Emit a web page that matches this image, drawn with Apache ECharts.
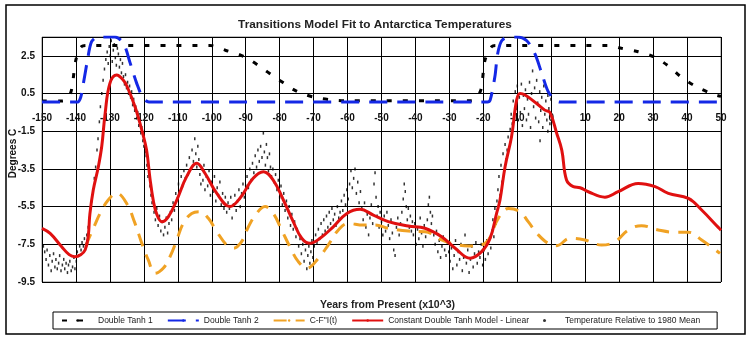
<!DOCTYPE html>
<html>
<head>
<meta charset="utf-8">
<script src="https://cdn.jsdelivr.net/npm/echarts@6/dist/echarts.min.js"></script>
<style>
  html, body { margin: 0; padding: 0; background: #ffffff; }
  #chart { width: 750px; height: 338px; }
</style>
</head>
<body>
<div id="chart"></div>
<script>
// Age in thousands of years from present (negative = past), temperature in degrees C.
const xTicks = { min: -150, max: 50, step: 10 };
const yTicks = { min: -9.5, max: 3.5, step: 2 };

const doubleTanh1 = [
  [-150, 0.1], [-144, 0.1], [-142.5, 0.2], [-141.3, 0.7], [-140, 2.3], [-138.3, 3.0], [-136.5, 3.05],
  [-100.5, 3.05], [-96, 2.8], [-92, 2.58], [-88.7, 2.28], [-85.1, 1.84], [-81.9, 1.43], [-78.9, 1.07],
  [-76, 0.72], [-72.8, 0.46], [-69.1, 0.28], [-64.3, 0.16], [-60, 0.12], [-24, 0.12], [-22.5, 0.16],
  [-20.7, 0.72], [-19.5, 2.28], [-17.5, 3.0], [-16, 3.05], [16.8, 3.05], [20.7, 2.9], [25.6, 2.72],
  [30.6, 2.42], [34.5, 1.96], [38.4, 1.36], [42.4, 0.9], [47.7, 0.46], [50, 0.35]
];

const doubleTanh2 = [
  [-150, 0.05], [-139.5, 0.05], [-138.6, 0.3], [-137.8, 1.04], [-136.6, 2.28], [-135.4, 3.25],
  [-133.5, 3.5], [-128.5, 3.5], [-126, 3.16], [-124, 2.1], [-122.1, 1.04], [-120.2, 0.25], [-118.5, 0.05],
  [-18.8, 0.05], [-18, 0.15], [-16.6, 1.4], [-15.8, 2.6], [-14.6, 3.3], [-12.6, 3.5], [-10.2, 3.5],
  [-7.2, 3.3], [-4.8, 2.6], [-2.8, 1.57], [-0.9, 0.6], [1.1, 0.15], [2.5, 0.05], [50, 0.05]
];

const cfIt = [
  [-137.0, -7.6], [-136.4, -7.27], [-134.5, -6.5], [-132.9, -5.86], [-130.5, -5.15], [-128.0, -4.79],
  [-125.1, -5.32], [-122.6, -6.39], [-120.6, -7.45], [-118.7, -8.33], [-116.7, -9.04], [-114.3, -8.77],
  [-112.3, -8.16], [-110.3, -7.27], [-108.4, -6.39], [-105.9, -5.86], [-103.5, -5.77], [-101.0, -6.12],
  [-98.5, -6.83], [-95.6, -7.54], [-93.6, -7.71], [-91.2, -7.36], [-89.2, -6.57], [-86.8, -5.86],
  [-84.3, -5.5], [-81.9, -5.86], [-79.4, -6.74], [-77.0, -7.63], [-74.5, -8.42], [-72.0, -8.77],
  [-68.6, -8.24], [-65.7, -7.54], [-62.7, -6.74], [-59.8, -6.39], [-55.4, -6.48], [-51.9, -6.48],
  [-48.0, -6.65], [-42.1, -6.8], [-37.2, -6.83], [-32.3, -7.27], [-29.3, -7.45], [-24.4, -7.59],
  [-19.5, -7.45], [-15.6, -6.12], [-12.6, -5.6], [-9.2, -5.77], [-6.8, -6.3], [-3.8, -7.0],
  [-0.9, -7.45], [1.6, -7.57], [5.5, -7.18], [9.9, -7.27], [14.8, -7.54], [18.8, -7.36], [22.7, -6.74],
  [26.6, -6.51], [31.5, -6.74], [36.4, -6.86], [40.4, -6.86], [44.3, -7.27], [49.7, -7.98]
];

const modelLinear = [
  [-150, -6.65], [-147.6, -6.92], [-144.2, -7.63], [-142, -8.05], [-140.3, -8.16], [-138.6, -8.05],
  [-137.3, -7.8], [-136.4, -7.1], [-135.9, -5.9], [-134.9, -4.62], [-133.4, -3.38], [-132.4, -2.3],
  [-131.4, -0.55], [-130, 1.04], [-128, 1.48], [-126.1, 1.22], [-125, 0.9], [-122.6, -0.2],
  [-120.6, -1.44], [-119.2, -2.5], [-118.2, -4.0], [-117.2, -5.2], [-116.2, -5.9], [-114.7, -6.3],
  [-112.8, -6.04], [-110.3, -5.15], [-107.4, -3.91], [-104.4, -3.2], [-102.0, -3.73], [-98.5, -4.8],
  [-94.6, -5.5], [-91.7, -5.06], [-87.8, -4.0], [-84.8, -3.65], [-81.9, -4.09], [-78.9, -5.15],
  [-76.0, -6.3], [-73.5, -7.18], [-71.1, -7.45], [-68.1, -7.18], [-64.2, -6.57], [-60.2, -5.86],
  [-56.3, -5.64], [-52.4, -5.95], [-48.0, -6.3], [-42.1, -6.53], [-37.2, -6.65], [-32.3, -7.1],
  [-28.3, -7.71], [-23.9, -8.24], [-20.5, -7.89], [-18.0, -7.18], [-16.1, -5.86], [-15.1, -5.15],
  [-13.6, -3.38], [-11.7, -1.79], [-10.2, 0.15], [-9.2, 0.5], [-7.7, 0.42], [-4.3, -0.03],
  [-1.9, -0.38], [-0.4, -0.5], [1.6, -1.61], [3.1, -2.5], [4.5, -4.09], [6.5, -4.44], [8.5, -4.5],
  [10.9, -4.71], [15.8, -5.0], [19.7, -4.71], [25.6, -4.27], [30.6, -4.44], [34.5, -4.8],
  [40.4, -5.06], [44.3, -5.68], [49.2, -6.6], [50, -6.75]
];

// Ice-core temperature relative to the 1980 mean.
const tempObs = [
  [-149.6,-7.6],[-149.2,-7.9],[-148.8,-8.3],[-148.5,-7.8],[-148.1,-8.6],[-147.7,-8.1],[-147.3,-8.9],[-147.0,-8.4],
  [-146.6,-8.0],[-146.2,-8.7],[-145.9,-8.3],[-145.5,-8.8],[-145.1,-8.5],[-144.8,-8.1],[-144.4,-8.9],[-144.0,-8.6],
  [-143.6,-8.3],[-143.3,-8.8],[-142.9,-8.5],[-142.5,-9.0],[-142.2,-8.6],[-141.8,-8.4],[-141.4,-8.9],[-141.0,-8.7],
  [-140.6,-8.2],[-140.3,-8.8],
  [-139.9,-8.4],[-139.6,-7.9],[-139.2,-8.1],[-138.9,-7.6],[-138.5,-7.8],[-138.2,-7.4],[-137.8,-7.6],[-137.5,-7.2],
  [-137.1,-7.5],[-136.8,-7.0],
  [-136.4,-6.6],[-136.0,-6.1],[-135.7,-5.6],[-135.3,-5.2],[-135.0,-4.6],[-134.6,-4.0],[-134.2,-3.4],[-133.8,-2.5],
  [-133.5,-1.9],[-133.1,-1.0],[-132.8,-0.2],[-132.4,0.5],[-132.0,1.2],[-131.6,1.8],[-131.2,2.3],
  [-130.8,2.7],[-130.5,2.1],[-130.2,3.0],[-129.9,2.5],[-129.6,3.3],[-129.3,2.2],[-129.0,2.8],[-128.7,3.1],
  [-128.4,2.4],[-128.1,2.0],[-127.8,2.9],[-127.5,2.6],[-127.2,1.9],[-126.9,2.3],[-126.6,1.6],[-126.3,2.1],
  [-126.0,1.4],[-125.7,1.0],[-125.4,1.5],[-125.1,0.8],[-124.8,1.1],[-124.5,0.5],[-124.2,0.9],[-123.9,0.3],
  [-123.6,0.6],[-123.3,-0.1],[-123.0,0.2],[-122.7,-0.4],[-122.4,-0.2],[-122.1,-0.8],[-121.8,-0.5],[-121.5,-1.2],
  [-121.2,-0.9],[-120.9,-1.6],[-120.6,-1.3],[-120.3,-2.0],
  [-120.0,-2.3],[-119.7,-2.8],[-119.4,-2.6],[-119.1,-3.3],[-118.8,-3.9],[-118.5,-3.6],[-118.2,-4.4],[-117.9,-4.9],
  [-117.6,-5.3],[-117.3,-5.0],
  [-117.0,-5.8],[-116.6,-6.2],[-116.2,-5.6],[-115.8,-6.5],[-115.4,-6.0],[-115.0,-6.8],[-114.6,-6.3],[-114.2,-7.0],
  [-113.8,-6.6],[-113.4,-6.1],[-113.0,-6.9],[-112.6,-6.4],[-112.2,-5.8],[-111.8,-6.2],
  [-111.4,-5.3],[-111.0,-5.7],[-110.6,-4.8],[-110.2,-5.1],[-109.8,-4.3],[-109.4,-4.7],[-109.0,-3.9],[-108.6,-4.4],
  [-108.2,-3.6],[-107.8,-4.0],[-107.4,-3.3],[-107.0,-3.8],[-106.6,-2.9],[-106.2,-3.5],[-105.8,-2.5],[-105.4,-3.1],
  [-105.0,-1.9],[-104.7,-2.7],[-104.4,-3.4],[-104.1,-2.3],
  [-103.8,-3.0],[-103.5,-3.8],[-103.2,-4.3],[-102.9,-3.5],[-102.6,-4.1],[-102.3,-3.3],[-102.0,-4.6],[-101.6,-3.9],
  [-101.2,-4.4],[-100.8,-3.6],[-100.4,-4.9],[-100.0,-4.2],[-99.6,-4.7],[-99.2,-3.9],[-98.8,-5.2],[-98.4,-4.5],
  [-98.0,-4.9],[-97.6,-4.2],[-97.2,-5.4],[-96.8,-4.8],[-96.4,-5.6],[-96.0,-5.0],[-95.6,-5.8],[-95.2,-5.3],
  [-94.8,-5.6],[-94.4,-5.0],[-94.0,-6.1],[-93.6,-5.4],[-93.2,-4.9],[-92.8,-5.7],[-92.4,-5.2],[-92.0,-4.6],
  [-91.6,-5.5],[-91.2,-4.8],[-90.8,-4.3],[-90.4,-5.0],
  [-90.0,-4.4],[-89.6,-3.9],[-89.2,-4.5],[-88.8,-3.5],[-88.4,-4.1],[-88.0,-3.2],[-87.6,-3.7],[-87.2,-2.8],
  [-86.8,-3.4],[-86.4,-2.5],[-86.0,-3.1],[-85.6,-2.3],[-85.2,-2.9],[-84.8,-1.6],[-84.5,-2.6],[-84.2,-3.3],
  [-83.9,-2.2],[-83.6,-2.9],[-83.3,-3.6],[-83.0,-2.7],[-82.7,-3.4],[-82.4,-3.9],
  [-82.0,-3.5],[-81.6,-4.2],[-81.2,-3.8],[-80.8,-4.6],[-80.4,-4.1],[-80.0,-5.0],[-79.6,-4.4],[-79.2,-5.4],
  [-78.8,-4.8],[-78.4,-5.7],[-78.0,-5.2],[-77.6,-6.1],[-77.2,-5.5],[-76.8,-6.5],[-76.4,-5.9],[-76.0,-6.7],
  [-75.6,-6.3],[-75.2,-7.1],[-74.8,-6.7],[-74.4,-7.6],[-74.0,-7.2],[-73.6,-8.0],[-73.2,-7.5],[-72.8,-8.4],
  [-72.4,-7.8],[-72.0,-8.8],[-71.7,-8.1],[-71.4,-7.6],[-71.1,-8.5],[-70.8,-7.9],[-70.5,-7.3],[-70.2,-8.2],
  [-69.8,-7.6],[-69.4,-7.0],[-69.0,-7.4],[-68.6,-6.7],[-68.2,-7.2],[-67.8,-6.4],[-67.4,-7.0],[-67.0,-6.2],
  [-66.6,-6.8],[-66.2,-6.0],[-65.8,-6.6],[-65.4,-5.8],[-65.0,-6.4],[-64.6,-5.6],[-64.2,-6.2],[-63.8,-5.9],
  [-63.4,-6.5],[-63.0,-5.5],[-62.6,-6.1],[-62.2,-5.8],
  [-61.8,-5.2],[-61.4,-5.7],[-61.0,-4.9],[-60.6,-5.4],[-60.2,-4.6],[-59.8,-5.1],[-59.4,-4.3],[-59.0,-3.6],
  [-58.6,-4.5],[-58.2,-4.0],[-57.8,-3.5],[-57.4,-4.8],[-57.0,-4.2],[-56.6,-5.3],[-56.2,-4.7],
  [-55.8,-5.6],[-55.4,-6.2],[-55.0,-5.3],[-54.6,-6.6],[-54.2,-5.9],[-53.8,-7.0],[-53.4,-6.1],[-53.0,-5.4],
  [-52.6,-6.4],[-52.2,-4.3],[-51.9,-3.7],[-51.6,-5.0],[-51.3,-6.0],[-51.0,-5.5],[-50.7,-6.6],[-50.4,-5.8],
  [-50.0,-6.3],[-49.6,-7.0],[-49.2,-6.0],[-48.8,-6.8],[-48.4,-5.8],[-48.0,-6.5],[-47.6,-7.2],[-47.2,-6.2],
  [-46.8,-6.9],[-46.4,-7.8],[-46.0,-8.1],[-45.6,-6.6],[-45.2,-6.1],[-44.8,-7.0],
  [-44.4,-6.4],[-44.0,-5.8],[-43.6,-5.1],[-43.3,-4.3],[-43.0,-4.7],[-42.7,-5.5],[-42.4,-6.2],[-42.1,-5.6],
  [-41.8,-6.6],[-41.5,-6.0],[-41.2,-6.8],[-40.9,-6.3],
  [-40.6,-7.0],[-40.2,-6.4],[-39.8,-7.5],[-39.4,-6.7],[-39.0,-7.2],[-38.6,-6.1],[-38.2,-6.9],[-37.8,-7.6],
  [-37.4,-6.5],[-37.0,-7.1],
  [-36.5,-6.2],[-36.2,-5.4],[-35.9,-5.0],[-35.6,-5.8],[-35.3,-6.4],[-35.0,-6.0],
  [-34.6,-7.0],[-34.2,-7.5],[-33.8,-6.8],[-33.4,-7.9],[-33.0,-7.3],[-32.6,-8.2],[-32.2,-7.6],[-31.8,-7.1],
  [-31.4,-7.8],[-31.0,-8.1],[-30.6,-7.4],[-30.2,-7.9],
  [-29.8,-8.4],[-29.4,-7.7],[-29.0,-8.8],[-28.6,-8.1],[-28.2,-7.3],[-27.8,-8.6],[-27.4,-7.9],[-27.0,-8.3],
  [-26.6,-7.5],[-26.2,-8.9],[-25.8,-8.2],[-25.4,-7.0],[-25.0,-8.5],[-24.6,-7.8],[-24.2,-9.0],
  [-23.8,-8.3],[-23.4,-7.6],[-23.0,-8.7],[-22.6,-8.0],[-22.2,-7.4],[-21.8,-8.5],[-21.4,-7.9],[-21.0,-8.2],
  [-20.6,-7.5],[-20.2,-8.6],[-19.8,-7.8],[-19.4,-8.3],[-19.0,-7.3],[-18.6,-8.0],[-18.2,-7.2],[-17.8,-7.7],
  [-17.5,-6.8],[-17.2,-6.2],[-16.9,-7.1],[-16.6,-5.6],[-16.3,-6.4],[-16.0,-5.2],
  [-15.7,-4.6],[-15.4,-3.9],[-15.1,-4.9],[-14.8,-3.3],[-14.5,-4.2],[-14.2,-2.7],[-13.9,-3.6],[-13.6,-2.2],
  [-13.3,-3.0],[-13.0,-2.5],[-12.7,-1.8],[-12.4,-2.4],
  [-12.1,-1.4],[-11.8,-0.6],[-11.5,-1.1],[-11.2,0.1],[-10.9,-0.8],[-10.6,0.6],[-10.3,-0.3],[-10.0,0.9],
  [-9.7,-0.9],[-9.4,0.3],[-9.1,-0.5],[-8.8,1.0],[-8.5,-1.2],
  [-8.2,0.4],[-7.9,-0.3],[-7.6,0.7],[-7.3,-0.9],[-7.0,0.2],[-6.7,-0.6],[-6.4,1.1],[-6.1,-1.3],
  [-5.8,0.5],[-5.5,1.7],[-5.2,-0.2],[-4.9,0.8],[-4.6,-0.8],[-4.3,1.2],[-4.0,0.0],[-3.7,-1.0],
  [-3.4,0.6],[-3.3,-2.0],[-3.1,-0.4],[-2.8,0.3],[-2.5,-1.3],[-2.2,0.9],[-1.9,-0.6],[-1.6,0.1],
  [-1.3,-0.9],[-1.0,0.4],[-1.0,-1.5],[-0.7,-0.3],[-0.4,-1.1],[-0.1,0.2]
];

const seriesNames = [
  'Double Tanh 1',
  'Double Tanh 2',
  'C-F"I(t)',
  'Constant Double Tanh Model - Linear',
  'Temperature Relative to 1980 Mean'
];

const chart = echarts.init(document.getElementById('chart'), null, { renderer: 'canvas' });

const FONT = 'Liberation Sans, Arial, sans-serif';

// Plot box in pixels; the tick labels sit on the y = 0 line, so shift the x axis up from the bottom edge.
const plot = { left: 42, top: 37, right: 29, bottom: 56, height: 338 - 37 - 56 };
const zeroOffset = -plot.height * (0 - yTicks.min) / (yTicks.max - yTicks.min);

chart.setOption({
  backgroundColor: '#ffffff',
  animation: false,
  graphic: [{
    type: 'rect',
    shape: { x: 6, y: 5, width: 739, height: 329 },
    style: { fill: 'none', stroke: '#000000', lineWidth: 1.5 },
    z: 0
  }],
  title: [{
    text: 'Transitions Model Fit to Antarctica Temperatures',
    left: 'center',
    top: 14,
    textStyle: { fontFamily: FONT, fontSize: 11.8, fontWeight: 'bold', color: '#222222' }
  }, {
    text: 'Years from Present (x10^3)',
    left: 315,
    top: 295,
    textStyle: { fontFamily: FONT, fontSize: 10.5, fontWeight: 'bold', color: '#222222' }
  }],
  legend: {
    left: 53,
    top: 312,
    width: 720,
    padding: [4, 17, 4, 8],
    borderColor: '#000000',
    borderWidth: 1,
    itemWidth: 31,
    itemHeight: 3,
    itemGap: 14,
    textStyle: { fontFamily: FONT, fontSize: 8.5, color: '#222222' },
    data: [
      { name: seriesNames[0] },
      { name: seriesNames[1] },
      { name: seriesNames[2] },
      { name: seriesNames[3] },
      { name: seriesNames[4], icon: 'circle' }
    ]
  },
  grid: {
    left: plot.left, top: plot.top, right: plot.right, bottom: plot.bottom,
    outerBoundsMode: 'none',
    containLabel: false,
    show: true,
    borderColor: '#808080',
    borderWidth: 1,
    backgroundColor: '#ffffff'
  },
  xAxis: {
    type: 'value',
    min: xTicks.min,
    max: xTicks.max,
    interval: xTicks.step,
    position: 'bottom',
    offset: zeroOffset,
    axisLine: { show: false, onZero: false },
    axisTick: { show: false },
    axisLabel: {
      fontFamily: FONT, fontSize: 10, fontWeight: 'bold', color: '#111111', margin: 10,
      showMinLabel: true, showMaxLabel: true
    },
    splitLine: { show: true, lineStyle: { color: '#000000', width: 1 } }
  },
  yAxis: {
    type: 'value',
    min: yTicks.min,
    max: yTicks.max,
    interval: yTicks.step,
    name: 'Degrees C',
    nameLocation: 'middle',
    nameRotate: 90,
    nameGap: 24,
    nameMoveOverlap: false,
    nameTextStyle: {
      fontFamily: FONT, fontSize: 10, fontWeight: 'bold', color: '#111111',
      padding: [0, 0, 0, 12]
    },
    axisLine: { show: false, onZero: false },
    axisTick: { show: false },
    axisLabel: {
      fontFamily: FONT, fontSize: 10, fontWeight: 'bold', color: '#111111', margin: 7,
      showMinLabel: true, showMaxLabel: false,
      formatter: v => v.toFixed(1)
    },
    splitLine: { show: true, lineStyle: { color: '#000000', width: 1 } }
  },
  series: [{
    name: seriesNames[4],
    type: 'scatter',
    data: tempObs,
    symbol: 'rect',
    symbolSize: [1.5, 3],
    itemStyle: { color: '#000000' },
    z: 2
  }, {
    name: seriesNames[0],
    type: 'line',
    data: doubleTanh1,
    smooth: 0.3,
    symbol: 'none',
    lineStyle: { color: '#000000', width: 3, type: [5, 11] },
    itemStyle: { color: '#000000' },
    z: 3
  }, {
    name: seriesNames[1],
    type: 'line',
    data: doubleTanh2,
    smooth: 0.3,
    symbol: 'none',
    lineStyle: { color: '#1428e6', width: 3, type: [18, 10] },
    itemStyle: { color: '#1428e6' },
    z: 3
  }, {
    name: seriesNames[2],
    type: 'line',
    data: cfIt,
    smooth: 0.4,
    symbol: 'none',
    lineStyle: { color: '#f0a224', width: 3, type: [13, 9] },
    itemStyle: { color: '#f0a224' },
    z: 3
  }, {
    name: seriesNames[3],
    type: 'line',
    data: modelLinear,
    smooth: 0.4,
    symbol: 'none',
    lineStyle: { color: '#e01010', width: 3 },
    itemStyle: { color: '#e01010' },
    z: 4
  }]
});
</script>
</body>
</html>
